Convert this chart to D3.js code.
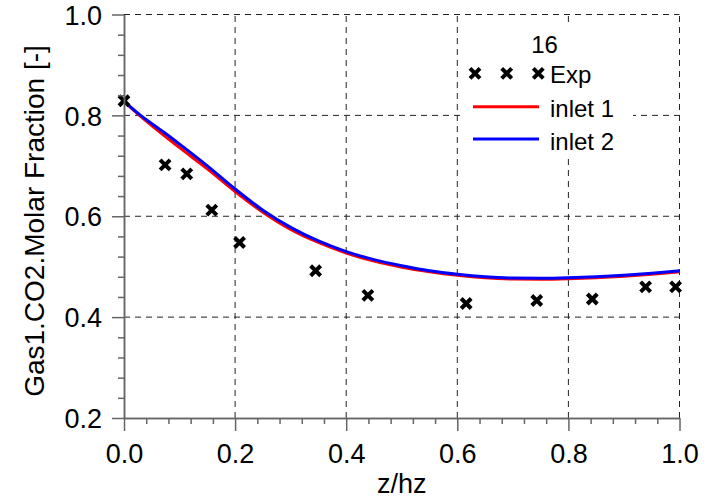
<!DOCTYPE html>
<html>
<head>
<meta charset="utf-8">
<script src="https://cdn.jsdelivr.net/npm/d3@7"></script>
<style>
  html, body { margin: 0; padding: 0; background: #fff; }
  svg { display: block; font-family: "Liberation Sans", Arial, Helvetica, sans-serif; }
</style>
</head>
<body>
<svg id="chart" width="715" height="500"></svg>
<script>
// Measured CO2 molar fraction along the column height
const expZ = [0.000, 0.074, 0.113, 0.158, 0.208, 0.345, 0.439, 0.616, 0.743, 0.843, 0.939, 0.993];
const expY = [0.829, 0.702, 0.684, 0.612, 0.548, 0.492, 0.443, 0.427, 0.433, 0.436, 0.460, 0.460];

// Simulated profiles for the two inlet configurations
const simZ    = [0, 0.03, 0.07, 0.10, 0.15, 0.20, 0.25, 0.30, 0.35, 0.40, 0.45, 0.50, 0.55, 0.60, 0.65, 0.70, 0.75, 0.80, 0.85, 0.90, 0.95, 1.00];
const inlet1Y = [0.828, 0.798, 0.762, 0.736, 0.694, 0.649, 0.608, 0.574, 0.548, 0.527, 0.511, 0.499, 0.490, 0.483, 0.478, 0.4755, 0.475, 0.476, 0.478, 0.481, 0.485, 0.490];
const inlet2Y = [0.828, 0.800, 0.768, 0.743, 0.700, 0.654, 0.612, 0.578, 0.551, 0.530, 0.514, 0.502, 0.492, 0.485, 0.480, 0.4775, 0.477, 0.478, 0.480, 0.483, 0.487, 0.492];

const xMajor = [0, 0.2, 0.4, 0.6, 0.8, 1.0];
const yMajor = [0.2, 0.4, 0.6, 0.8, 1.0];
const xMinor = d3.range(0, 1.0001, 0.04).filter(v => Math.abs(v * 5 - Math.round(v * 5)) > 1e-6);
const yMinor = d3.range(0.2, 1.0001, 0.04).filter(v => Math.abs(v * 5 - Math.round(v * 5)) > 1e-6);

const legendTitle = "16";
const seriesNames = ["Exp", "inlet 1", "inlet 2"];
const seriesColors = ["#000000", "#ff0000", "#0000ff"];

const svg = d3.select("#chart");
const x = d3.scaleLinear().domain([0, 1]).range([124, 679.5]);
const y = d3.scaleLinear().domain([0.2, 1.0]).range([418, 14.5]);

const fmt = d3.format(".1f");
const axisColor = "#666";
const gridColor = "#222";

// dashed grid
const grid = svg.append("g");
grid.selectAll("line.v").data(xMajor.filter(v => v > 0)).join("line")
  .attr("x1", d => x(d)).attr("x2", d => x(d))
  .attr("y1", y(0.2)).attr("y2", y(1.0))
  .attr("stroke", gridColor).attr("stroke-width", 1)
  .attr("stroke-dasharray", "6,5");
grid.selectAll("line.h").data(yMajor.filter(v => v > 0.2)).join("line")
  .attr("x1", x(0)).attr("x2", x(1))
  .attr("y1", d => y(d)).attr("y2", d => y(d))
  .attr("stroke", gridColor).attr("stroke-width", 1)
  .attr("stroke-dasharray", "6,5");

// legend background hides the grid underneath
svg.append("rect")
  .attr("x", 460).attr("y", 22).attr("width", 173).attr("height", 135)
  .attr("fill", "#fff");

// simulated curves
const line = (ys) => d3.line()
  .x((d, i) => x(simZ[i]))
  .y((d, i) => y(ys[i]))
  .curve(d3.curveMonotoneX)(ys);

svg.append("path").attr("d", line(inlet1Y))
  .attr("fill", "none").attr("stroke", seriesColors[1]).attr("stroke-width", 3);
svg.append("path").attr("d", line(inlet2Y))
  .attr("fill", "none").attr("stroke", seriesColors[2]).attr("stroke-width", 3);

// experimental crosses
function cross(g, cx, cy) {
  const h = 5;
  g.append("path")
    .attr("d", `M${cx - h},${cy - h}L${cx + h},${cy + h}M${cx - h},${cy + h}L${cx + h},${cy - h}`)
    .attr("stroke", seriesColors[0]).attr("stroke-width", 4).attr("fill", "none");
}
const pts = svg.append("g");
expZ.forEach((z, i) => cross(pts, x(z), y(expY[i])));

// axes
const styleAxis = g => {
  g.select(".domain").attr("stroke", axisColor).attr("stroke-width", 1.5);
  g.selectAll(".tick line").attr("stroke", axisColor).attr("stroke-width", 1.5);
  g.selectAll("text").attr("fill", "#000").attr("font-size", 27)
    .attr("font-family", "'Liberation Sans', Arial, sans-serif");
};

svg.append("g").attr("transform", `translate(0,${y(0.2)})`)
  .call(d3.axisBottom(x).tickValues(xMinor).tickSize(6).tickSizeOuter(0).tickFormat(""))
  .call(styleAxis);
const xAx = svg.append("g").attr("transform", `translate(0,${y(0.2)})`)
  .call(d3.axisBottom(x).tickValues(xMajor).tickSize(13).tickSizeOuter(0).tickFormat(fmt))
  .call(styleAxis);
xAx.selectAll("text").attr("y", 45).attr("dy", null);

svg.append("g").attr("transform", `translate(${x(0)},0)`)
  .call(d3.axisLeft(y).tickValues(yMinor).tickSize(6).tickSizeOuter(0).tickFormat(""))
  .call(styleAxis);
const yAx = svg.append("g").attr("transform", `translate(${x(0)},0)`)
  .call(d3.axisLeft(y).tickValues(yMajor).tickSize(12).tickSizeOuter(0).tickFormat(fmt))
  .call(styleAxis);
yAx.selectAll("text").attr("x", -22).attr("dy", "0.36em");

// axis titles
svg.append("text")
  .attr("x", (x(0) + x(1)) / 2).attr("y", 493)
  .attr("text-anchor", "middle").attr("font-size", 27)
  .text("z/hz");
svg.append("text")
  .attr("transform", "translate(43.5,221) rotate(-90)")
  .attr("text-anchor", "middle").attr("font-size", 28)
  .text("Gas1.CO2.Molar Fraction [-]");

// legend
const lg = svg.append("g").attr("font-size", 24);
lg.append("text").attr("x", 544.5).attr("y", 53).attr("text-anchor", "middle").text(legendTitle);
[475, 506.7, 538.3].forEach(cx => cross(lg, cx, 73.3));
lg.append("text").attr("x", 550).attr("y", 83).text(seriesNames[0]);
lg.append("line").attr("x1", 473).attr("x2", 539).attr("y1", 106.7).attr("y2", 106.7)
  .attr("stroke", seriesColors[1]).attr("stroke-width", 3);
lg.append("text").attr("x", 550).attr("y", 116.5).text(seriesNames[1]);
lg.append("line").attr("x1", 473).attr("x2", 539).attr("y1", 139).attr("y2", 139)
  .attr("stroke", seriesColors[2]).attr("stroke-width", 3);
lg.append("text").attr("x", 550).attr("y", 149.5).text(seriesNames[2]);
</script>
</body>
</html>
